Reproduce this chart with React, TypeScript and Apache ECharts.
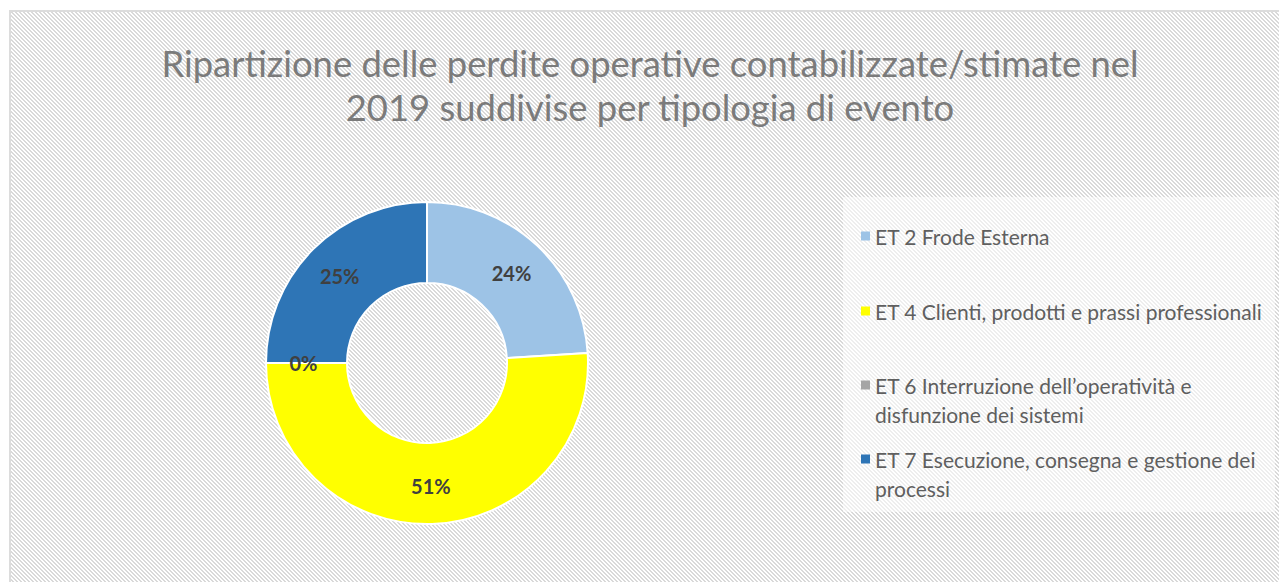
import React, { useEffect, useRef } from "react";
import * as echarts from "echarts";

const titleLines = [
  "Ripartizione delle perdite operative contabilizzate/stimate nel",
  "2019 suddivise per tipologia di evento",
];
const categories = [
  "ET 2 Frode Esterna",
  "ET 4 Clienti, prodotti e prassi professionali",
  "ET 6 Interruzione dell’operatività e disfunzione dei sistemi",
  "ET 7 Esecuzione, consegna e gestione dei processi",
];
const legendLines = [
  ["ET 2 Frode Esterna"],
  ["ET 4 Clienti, prodotti e prassi professionali"],
  ["ET 6 Interruzione dell’operatività e", "disfunzione dei sistemi"],
  ["ET 7 Esecuzione, consegna e gestione dei", "processi"],
];
const values = [24, 51, 0, 25];
const colors = ["#9dc3e6", "#ffff00", "#a5a5a5", "#2e75b6"];

const FONT = "Lato, 'Open Sans', sans-serif";

const stripeSvg =
  "<svg xmlns='http://www.w3.org/2000/svg' width='4' height='4' shape-rendering='crispEdges'>" +
  "<rect width='4' height='4' fill='#ffffff'/>" +
  "<g fill='#d9d9d9'>" +
  "<rect x='0' y='0' width='1' height='1'/><rect x='1' y='1' width='1' height='1'/>" +
  "<rect x='2' y='2' width='1' height='1'/><rect x='3' y='3' width='1' height='1'/>" +
  "<rect x='1' y='0' width='1' height='1'/><rect x='2' y='1' width='1' height='1'/>" +
  "<rect x='3' y='2' width='1' height='1'/><rect x='0' y='3' width='1' height='1'/>" +
  "</g></svg>";
const stripeUrl = "url(\"data:image/svg+xml;utf8," + encodeURIComponent(stripeSvg) + "\")";

export default function App() {
  const ref = useRef<HTMLDivElement>(null);

  useEffect(() => {
    if (!ref.current) return;
    const chart = echarts.init(ref.current, undefined, { renderer: "svg" });
    const legendTops = [221.5, 296.5, 370.5, 444.5];
    const legends = categories.map((name, i) => {
      const twoLines = legendLines[i].length > 1;
      return {
        data: [name],
        orient: "vertical",
        left: 861,
        top: legendTops[i],
        padding: 0,
        itemWidth: 9,
        itemHeight: twoLines ? 38 : 9,
        icon: twoLines ? "path://M0,0L9,0L9,9L0,9Z M0,0L0,38" : "rect",
        itemStyle: { borderWidth: 0 },
        formatter: () => legendLines[i].join("\n"),
        textStyle: {
          fontFamily: FONT,
          fontSize: 21,
          lineHeight: 29,
          color: "#5f5f5f",
        },
      };
    });
    chart.setOption({
      animation: false,
      backgroundColor: "transparent",
      color: colors,
      title: {
        text: titleLines.join("\n"),
        left: 650,
        textAlign: "center",
        top: 41,
        padding: 0,
        textStyle: {
          fontFamily: FONT,
          fontSize: 36.4,
          lineHeight: 44,
          fontWeight: "normal",
          color: "#7b7b7b",
        },
      },
      legend: legends,
      graphic: [
        {
          type: "rect",
          silent: true,
          z: -1,
          shape: { x: 843, y: 197, width: 432, height: 315 },
          style: { fill: "rgba(255,255,255,0.55)" },
        },
      ],
      series: [
        {
          type: "pie",
          center: [427, 363],
          radius: [80, 161],
          startAngle: 90,
          clockwise: true,
          avoidLabelOverlap: false,
          itemStyle: { borderColor: "#ffffff", borderWidth: 2 },
          label: {
            show: true,
            position: "inside",
            formatter: (p: any) => Math.round(p.percent) + "%",
            fontFamily: FONT,
            fontSize: 20,
            fontWeight: "bold",
            color: "#404040",
          },
          labelLine: { show: false },
          emphasis: { disabled: true },
          data: categories.map((name, i) => ({ name, value: values[i] })),
        },
      ],
    });
    return () => chart.dispose();
  }, []);

  return (
    <div
      style={{
        position: "fixed",
        left: 0,
        top: 0,
        width: 1279,
        height: 582,
        overflow: "hidden",
        background: "#ffffff",
      }}
    >
      <div
        style={{
          position: "absolute",
          left: 9,
          top: 10,
          width: 1280,
          height: 590,
          boxSizing: "border-box",
          border: "2px solid #dcdcdc",
          backgroundColor: "#ffffff",
          backgroundImage: stripeUrl,
          backgroundRepeat: "repeat",
        }}
      />
      <div
        ref={ref}
        style={{ position: "absolute", left: 0, top: 0, width: 1279, height: 582 }}
      />
    </div>
  );
}
